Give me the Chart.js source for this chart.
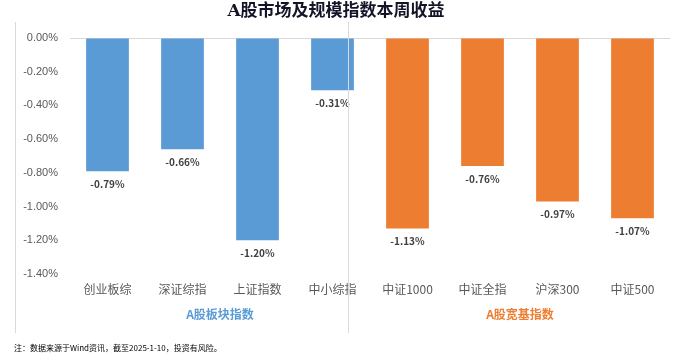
<!DOCTYPE html>
<html><head><meta charset="utf-8">
<script src="https://cdn.jsdelivr.net/npm/chart.js@4/dist/chart.umd.min.js"></script>
<style>html,body{margin:0;padding:0;background:#fff}#wrap{width:681px;height:361px}</style>
</head><body><div id="wrap"><canvas id="c" width="681" height="361"></canvas></div>
<script>
const titleText = 'A股市场及规模指数本周收益';
const categories = ['创业板综','深证综指','上证指数','中小综指','中证1000','中证全指','沪深300','中证500'];
const returns = [-0.79,-0.66,-1.20,-0.31,-1.13,-0.76,-0.97,-1.07];
const groupNames = ['A股板块指数','A股宽基指数'];
const groupSizes = [4,4];
const yTicks = [0,-0.2,-0.4,-0.6,-0.8,-1.0,-1.2,-1.4];
const footnote = '注：数据来源于Wind资讯，截至2025-1-10，投资有风险。';

const BLUE = '#5b9bd5', ORANGE = '#ed7d31';
const colors = categories.map((c,i)=> i < groupSizes[0] ? BLUE : ORANGE);
const FONT = '"Noto Sans CJK SC", "Noto Sans", sans-serif';

const deco = {
  id:'deco',
  afterDatasetsDraw(chart){
    const ctx = chart.ctx, x = chart.scales.x;
    ctx.save();
    const meta = chart.getDatasetMeta(0);
    ctx.font = 'bold 10px ' + FONT;
    ctx.fillStyle = '#404040';
    ctx.textAlign = 'center'; ctx.textBaseline = 'middle';
    meta.data.forEach((el,i)=>{
      ctx.fillText(returns[i].toFixed(2)+'%', el.x, el.y + 13);
    });
    ctx.strokeStyle = '#d9d9d9'; ctx.lineWidth = 1;
    const step = x.getPixelForValue(1) - x.getPixelForValue(0);
    const sepX = Math.round(x.getPixelForValue(groupSizes[0]-1) + step*0.2) + 0.5;
    ctx.beginPath();
    ctx.moveTo(15.5, 22); ctx.lineTo(15.5, 333);
    ctx.moveTo(sepX, 22); ctx.lineTo(sepX, 333);
    ctx.stroke();
    ctx.font = 'bold 12px ' + FONT;
    let start = 0;
    const gColors = [BLUE, ORANGE];
    groupSizes.forEach((n,g)=>{
      const cx = (x.getPixelForValue(start) + x.getPixelForValue(start+n-1))/2;
      ctx.fillStyle = gColors[g];
      ctx.fillText(groupNames[g], cx, 314);
      start += n;
    });
    ctx.font = 'bold 17px "DejaVu Serif", "Noto Sans CJK SC", serif';
    ctx.fillStyle = '#141428';
    ctx.fillText(titleText, 336, 12);
    ctx.font = '8px ' + FONT;
    ctx.fillStyle = '#000';
    ctx.textAlign = 'left';
    ctx.fillText(footnote, 14, 348);
    ctx.restore();
  }
};

new Chart(document.getElementById('c'), {
  type:'bar',
  data:{labels:categories, datasets:[{data:returns, backgroundColor:colors, categoryPercentage:1, barPercentage:0.57}]},
  options:{
    responsive:false, animation:false, devicePixelRatio:1,
    layout:{padding:{top:38,left:0,right:11,bottom:0}},
    plugins:{legend:{display:false}, tooltip:{enabled:false}, title:{display:false}},
    scales:{
      x:{
        grid:{display:false, drawTicks:false}, border:{display:false},
        ticks:{color:'#595959', font:{family:FONT, size:12}, padding:8, maxRotation:0},
        afterFit(s){ s.height = 87; }
      },
      y:{
        min:-1.4, max:0,
        afterBuildTicks(s){ s.ticks = yTicks.map(v=>({value:v})); },
        grid:{drawTicks:false, color:(c)=> c.tick && c.tick.value===0 ? '#d9d9d9' : 'rgba(0,0,0,0)'},
        border:{display:false},
        ticks:{color:'#595959', font:{family:'"Liberation Sans", Arial, sans-serif', size:11}, padding:12,
          callback:(v)=> Number(v).toFixed(2)+'%'},
        afterFit(s){ s.width = 70; }
      }
    }
  },
  plugins:[deco]
});
</script></body></html>
